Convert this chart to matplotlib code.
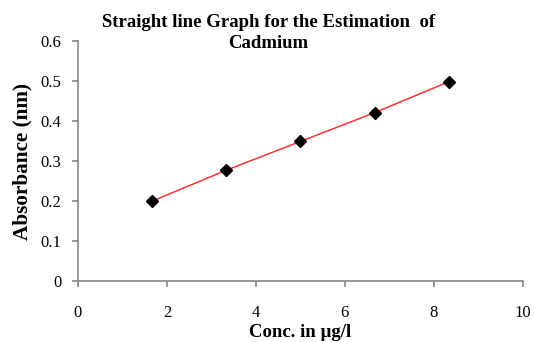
import matplotlib
matplotlib.use("Agg")
from matplotlib import pyplot as plt

# standard concentrations (ug/l) and absorbance readings
conc = [1.67, 3.33, 5.0, 6.67, 8.33]
absorbance = [0.2, 0.277, 0.349, 0.421, 0.498]

xticks = [0, 2, 4, 6, 8, 10]
yticks = [0, 0.1, 0.2, 0.3, 0.4, 0.5, 0.6]

plt.rcParams['font.family'] = ['Liberation Serif', 'DejaVu Serif']

fig = plt.figure(figsize=(5.34, 3.42), dpi=100)
ax = fig.add_axes([0.146, 0.178, 0.833, 0.702])

ax.plot(conc, absorbance, color='#ff3333', linewidth=1.1, zorder=2)
ax.plot(conc, absorbance, linestyle='none', marker='D', markersize=6.5,
        color='black', zorder=3)

ax.set_xlim(0, 10)
ax.set_ylim(0, 0.6)
ax.set_xticks(xticks)
ax.set_yticks(yticks)
ax.set_xticklabels([str(t) for t in xticks])
ax.set_yticklabels(['0'] + [f"{t:.1f}" for t in yticks[1:]])

for s in ['top', 'right']:
    ax.spines[s].set_visible(False)
for s in ['left', 'bottom']:
    ax.spines[s].set_color('#868686')
    ax.spines[s].set_linewidth(1.2)
ax.tick_params(axis='both', direction='out', length=4, width=1.2,
               color='#868686', labelsize=12, pad=8)
ax.tick_params(axis='x', pad=13)

ax.set_xlabel('Conc. in µg/l', fontsize=13.5, fontweight='bold', labelpad=2)
ax.set_ylabel('Absorbance (nm)', fontsize=15.3, fontweight='bold', labelpad=6)

fig.text(0.502, 0.958, 'Straight line Graph for the Estimation  of\nCadmium',
         ha='center', va='top', fontsize=13.5, fontweight='bold',
         linespacing=1.25)

fig.savefig('out.png', dpi=100)
